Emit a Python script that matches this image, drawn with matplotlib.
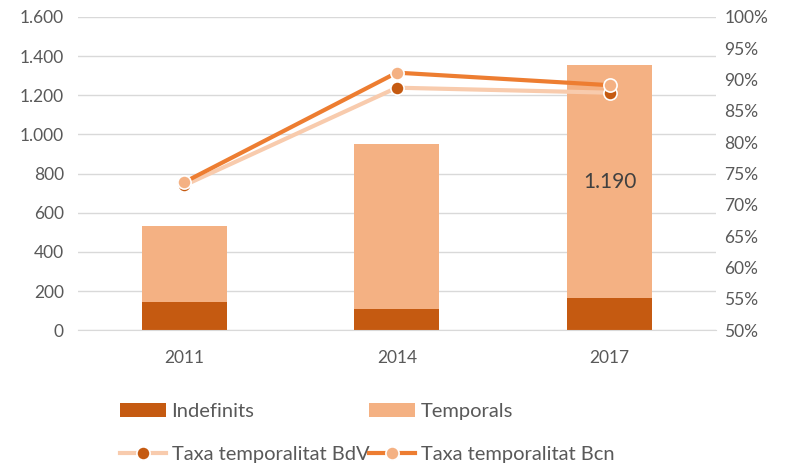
import matplotlib.pyplot as plt
from matplotlib.ticker import FuncFormatter
import numpy as np

plt.rcParams['font.family'] = ['Lato', 'DejaVu Sans']

years = ['2011', '2014', '2017']
indefinits = [143, 107, 164]
temporals = [388, 844, 1190]
taxa_bdv = [73.1, 88.7, 87.9]
taxa_bcn = [73.6, 91.1, 89.1]

c_indef = '#C55A11'
c_temp = '#F4B183'
c_bdv = '#F8CBAD'
c_bcn = '#ED7D31'
txt = '#595959'

fig = plt.figure(figsize=(7.85, 4.69), dpi=100)
ax = fig.add_axes([0.099, 0.296, 0.813, 0.668])
x = np.arange(len(years))

b1 = ax.bar(x, indefinits, width=0.4, color=c_indef, label='Indefinits', zorder=2)
b2 = ax.bar(x, temporals, width=0.4, bottom=indefinits, color=c_temp, label='Temporals', zorder=2)
ax.text(x[2], indefinits[2] + temporals[2] / 2, '1.190', ha='center', va='center',
        fontsize=15, color='#404040', zorder=3)

ax.set_ylim(0, 1600)
ax.set_yticks(range(0, 1601, 200))
ax.yaxis.set_major_formatter(FuncFormatter(lambda v, p: f'{int(v):,}'.replace(',', '.')))
ax.set_xlim(-0.5, 2.5)
ax.set_xticks(x)
ax.set_xticklabels(years)
ax.grid(axis='y', color='#D9D9D9', linewidth=1, zorder=0)
for s in ['top', 'right', 'left']:
    ax.spines[s].set_visible(False)
ax.spines['bottom'].set_color('#D9D9D9')
ax.tick_params(axis='y', length=0, labelsize=12.5, colors=txt, pad=10)
ax.tick_params(axis='x', length=0, labelsize=12.5, colors=txt, pad=14)

ax2 = ax.twinx()
l1, = ax2.plot(x, taxa_bdv, color=c_bdv, linewidth=3, marker='o', markersize=9.5,
               markerfacecolor=c_indef, markeredgecolor='white', markeredgewidth=1.2,
               label='Taxa temporalitat BdV', zorder=3)
l2, = ax2.plot(x, taxa_bcn, color=c_bcn, linewidth=3, marker='o', markersize=9.5,
               markerfacecolor=c_temp, markeredgecolor='white', markeredgewidth=1.2,
               label='Taxa temporalitat Bcn', zorder=4)
ax2.set_ylim(50, 100)
ax2.set_yticks(range(50, 101, 5))
ax2.yaxis.set_major_formatter(FuncFormatter(lambda v, p: f'{int(v)}%'))
for s in ['top', 'right', 'left', 'bottom']:
    ax2.spines[s].set_visible(False)
ax2.tick_params(length=0, labelsize=12.5, colors=txt, pad=6)

fig.legend([b1, l1, b2, l2],
           ['Indefinits', 'Taxa temporalitat BdV', 'Temporals', 'Taxa temporalitat Bcn'],
           ncol=2, loc='upper left', bbox_to_anchor=(0.13, 0.18), frameon=False,
           fontsize=14.5, labelcolor=txt, handlelength=2.3, handletextpad=0.25,
           columnspacing=0.0, labelspacing=1.3)

fig.savefig('out.png', dpi=100)
